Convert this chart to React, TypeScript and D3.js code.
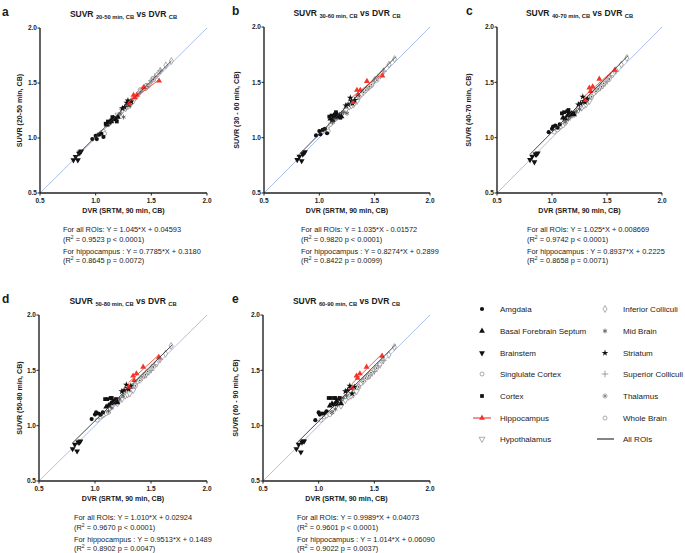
import React from 'react';
import * as d3 from 'd3';

// ---------------- DATA ----------------
const roiNames = [
  'Amgdala', 'Basal Forebrain Septum', 'Brainstem', 'Singlulate Cortex', 'Cortex',
  'Hippocampus', 'Hypothalamus', 'Inferior Colliculi', 'Mid Brain', 'Striatum',
  'Superior Colliculi', 'Thalamus', 'Whole Brain',
];

// DVR (SRTM, 90 min, CB) per ROI, 6 subjects each (same for all panels)
const dvrByRoi = [
  [0.97, 1.00, 1.01, 1.03, 1.05, 1.07],
  [1.10, 1.12, 1.14, 1.16, 1.18, 1.20],
  [0.80, 0.82, 0.84, 0.85, 0.86, 0.87],
  [1.33, 1.36, 1.38, 1.40, 1.44, 1.47],
  [1.09, 1.11, 1.14, 1.15, 1.16, 1.19],
  [1.30, 1.34, 1.35, 1.37, 1.43, 1.57],
  [1.20, 1.24, 1.27, 1.29, 1.31, 1.34],
  [1.45, 1.50, 1.55, 1.58, 1.63, 1.68],
  [1.12, 1.15, 1.17, 1.20, 1.22, 1.25],
  [1.24, 1.26, 1.28, 1.29, 1.30, 1.32],
  [1.40, 1.44, 1.46, 1.50, 1.53, 1.58],
  [1.36, 1.40, 1.42, 1.45, 1.47, 1.52],
  [1.02, 1.05, 1.07, 1.08, 1.10, 1.12],
];

const suvr20to50 = [
  [0.99, 1.02, 0.99, 1.03, 1.04, 1.01],
  [1.12, 1.14, 1.15, 1.18, 1.17, 1.19],
  [0.80, 0.83, 0.80, 0.86, 0.87, 0.88],
  [1.35, 1.37, 1.40, 1.44, 1.46, 1.48],
  [1.13, 1.15, 1.16, 1.19, 1.18, 1.15],
  [1.31, 1.39, 1.37, 1.39, 1.46, 1.52],
  [1.21, 1.25, 1.27, 1.29, 1.30, 1.34],
  [1.47, 1.52, 1.57, 1.61, 1.66, 1.70],
  [1.13, 1.16, 1.18, 1.19, 1.22, 1.19],
  [1.27, 1.28, 1.32, 1.34, 1.30, 1.33],
  [1.42, 1.46, 1.47, 1.52, 1.56, 1.61],
  [1.37, 1.42, 1.44, 1.45, 1.47, 1.53],
  [1.03, 1.05, 1.06, 1.04, 1.12, 1.13],
];

const suvr30to60 = [
  [1.02, 1.06, 1.03, 1.07, 1.08, 1.04],
  [1.17, 1.16, 1.19, 1.21, 1.20, 1.19],
  [0.80, 0.83, 0.79, 0.85, 0.86, 0.87],
  [1.35, 1.37, 1.39, 1.42, 1.45, 1.47],
  [1.19, 1.20, 1.21, 1.23, 1.19, 1.18],
  [1.32, 1.43, 1.39, 1.43, 1.51, 1.56],
  [1.21, 1.25, 1.28, 1.29, 1.30, 1.33],
  [1.46, 1.52, 1.56, 1.60, 1.66, 1.71],
  [1.14, 1.17, 1.19, 1.22, 1.23, 1.22],
  [1.29, 1.30, 1.36, 1.33, 1.31, 1.34],
  [1.41, 1.45, 1.47, 1.51, 1.55, 1.60],
  [1.37, 1.41, 1.43, 1.46, 1.48, 1.52],
  [1.05, 1.07, 1.08, 1.06, 1.12, 1.14],
];

const suvr40to70 = [
  [1.05, 1.08, 1.10, 1.11, 1.09, 1.12],
  [1.18, 1.17, 1.20, 1.21, 1.22, 1.21],
  [0.80, 0.83, 0.78, 0.85, 0.85, 0.86],
  [1.35, 1.38, 1.40, 1.43, 1.46, 1.48],
  [1.22, 1.23, 1.24, 1.25, 1.22, 1.22],
  [1.34, 1.45, 1.42, 1.46, 1.53, 1.61],
  [1.21, 1.25, 1.27, 1.29, 1.30, 1.33],
  [1.47, 1.52, 1.57, 1.61, 1.66, 1.72],
  [1.14, 1.17, 1.19, 1.22, 1.24, 1.26],
  [1.30, 1.31, 1.37, 1.33, 1.32, 1.35],
  [1.42, 1.45, 1.47, 1.51, 1.56, 1.60],
  [1.37, 1.42, 1.44, 1.46, 1.49, 1.53],
  [1.05, 1.07, 1.09, 1.10, 1.11, 1.13],
];

const suvr50to80 = [
  [1.06, 1.10, 1.12, 1.11, 1.10, 1.12],
  [1.17, 1.18, 1.20, 1.22, 1.23, 1.21],
  [0.79, 0.83, 0.77, 0.85, 0.85, 0.86],
  [1.34, 1.37, 1.40, 1.42, 1.46, 1.48],
  [1.24, 1.24, 1.25, 1.25, 1.21, 1.24],
  [1.35, 1.45, 1.41, 1.47, 1.53, 1.62],
  [1.20, 1.24, 1.27, 1.28, 1.29, 1.32],
  [1.46, 1.51, 1.56, 1.60, 1.65, 1.72],
  [1.13, 1.16, 1.20, 1.22, 1.24, 1.27],
  [1.31, 1.32, 1.37, 1.34, 1.33, 1.36],
  [1.41, 1.45, 1.46, 1.50, 1.55, 1.60],
  [1.36, 1.41, 1.44, 1.46, 1.49, 1.53],
  [1.05, 1.08, 1.09, 1.10, 1.11, 1.12],
];

const suvr60to90 = [
  [1.05, 1.12, 1.10, 1.11, 1.11, 1.13],
  [1.18, 1.20, 1.19, 1.22, 1.24, 1.20],
  [0.79, 0.83, 0.76, 0.85, 0.86, 0.86],
  [1.33, 1.36, 1.38, 1.41, 1.45, 1.47],
  [1.25, 1.25, 1.25, 1.25, 1.20, 1.25],
  [1.34, 1.45, 1.43, 1.47, 1.53, 1.63],
  [1.18, 1.23, 1.26, 1.27, 1.28, 1.31],
  [1.45, 1.50, 1.55, 1.59, 1.64, 1.71],
  [1.12, 1.15, 1.19, 1.22, 1.25, 1.27],
  [1.31, 1.32, 1.36, 1.34, 1.29, 1.35],
  [1.40, 1.44, 1.45, 1.49, 1.54, 1.59],
  [1.35, 1.40, 1.43, 1.45, 1.48, 1.52],
  [1.05, 1.08, 1.09, 1.12, 1.10, 1.12],
];

const panelSuvr = [suvr20to50, suvr30to60, suvr40to70, suvr50to80, suvr60to90];
const panelLetters = ['a', 'b', 'c', 'd', 'e'];
const titleSubs = ['20-50 min, CB', '30-60 min, CB', '40-70 min, CB', '50-80 min, CB', '60-90 min, CB'];
const yLabels = ['SUVR (20-50 min, CB)', 'SUVR (30 - 60 min, CB)', 'SUVR (40-70 min, CB)', 'SUVR (50-80 min, CB)', 'SUVR (60 - 90 min, CB)'];
const xLabel = 'DVR (SRTM, 90 min, CB)';
const axisTicks = [0.5, 1.0, 1.5, 2.0];
const allRoiEq = [
  'For all ROIs: Y = 1.045*X + 0.04593',
  'For all ROIs: Y = 1.035*X - 0.01572',
  'For all ROIs: Y = 1.025*X + 0.008669',
  'For all ROIs: Y = 1.010*X + 0.02924',
  'For all ROIs: Y = 0.9989*X + 0.04073',
];
const allRoiR2 = [' = 0.9523 p < 0.0001)', ' = 0.9820 p < 0.0001)', ' = 0.9742 p < 0.0001)', ' = 0.9670 p < 0.0001)', ' = 0.9601 p < 0.0001)'];
const hippoEq = [
  'For hippocampus : Y = 0.7785*X + 0.3180',
  'For hippocampus : Y = 0.8274*X + 0.2899',
  'For hippocampus : Y = 0.8937*X + 0.2225',
  'For hippocampus : Y = 0.9513*X + 0.1489',
  'For hippocampus : Y = 1.014*X + 0.06090',
];
const hippoR2 = [' = 0.8645 p = 0.0072)', ' = 0.8422 p = 0.0099)', ' = 0.8658 p = 0.0071)', ' = 0.8902 p = 0.0047)', ' = 0.9022 p = 0.0037)'];
// fitted line end points
const allFitX = [[0.80, 1.68], [0.80, 1.69], [0.80, 1.69], [0.80, 1.69], [0.80, 1.69]];
const allFitY = [[0.81, 1.70], [0.83, 1.73], [0.85, 1.74], [0.845, 1.73], [0.84, 1.73]];
const hippoFitX = [[1.30, 1.57], [1.30, 1.57], [1.30, 1.57], [1.30, 1.57], [1.30, 1.57]];
const hippoFitY = [[1.33, 1.53], [1.37, 1.58], [1.38, 1.62], [1.39, 1.64], [1.38, 1.65]];
const legendLeft = [0, 1, 2, 3, 4, 5, 6];
const legendRight = [7, 8, 9, 10, 11, 12, -1];
const allRoisLabel = 'All ROIs';

// ---------------- LAYOUT ----------------
const frames = [
  { x0: 40, x1: 207, y0: 28, y1: 193, lx: 2, ylx: 19, ax: 63 },
  { x0: 264, x1: 430, y0: 27, y1: 193, lx: 232, ylx: 236, ax: 301 },
  { x0: 497, x1: 662, y0: 27, y1: 193, lx: 466, ylx: 468, ax: 527 },
  { x0: 39, x1: 207, y0: 315, y1: 481, lx: 2, ylx: 19, ax: 74 },
  { x0: 263, x1: 430, y0: 315, y1: 481, lx: 232, ylx: 235, ax: 297 },
];
const legendRowsY = [309, 331, 353, 374, 396, 418, 439];
const FONT = "'Liberation Sans', Arial, Helvetica, sans-serif";
const RED = '#f5352a';
const GRAY = '#8a8a8a';
const BLUE = '#a4b8ec';
const INK = '#1a1a1a';

function Marker({ roi, cx, cy }: { roi: number; cx: number; cy: number }) {
  const t = `translate(${cx},${cy})`;
  const sym = (type: d3.SymbolType, size: number) => d3.symbol().type(type).size(size)() as string;
  switch (roi) {
    case 0: return <circle cx={cx} cy={cy} r={2.1} fill="#111" />;
    case 1: return <path transform={t} d={sym(d3.symbolTriangle, 15)} fill="#111" />;
    case 2: return <path transform={`${t} rotate(180)`} d={sym(d3.symbolTriangle, 15)} fill="#111" />;
    case 3: return <circle cx={cx} cy={cy} r={2} fill="#fff" stroke={GRAY} strokeWidth={0.7} />;
    case 4: return <path transform={t} d={sym(d3.symbolSquare, 14)} fill="#111" />;
    case 5: return <path transform={t} d={sym(d3.symbolTriangle, 15)} fill={RED} />;
    case 6: return <path transform={`${t} rotate(180)`} d={sym(d3.symbolTriangle, 15)} fill="#fff" stroke={GRAY} strokeWidth={0.7} />;
    case 7: return <path transform={t} d={sym(d3.symbolDiamond, 14)} fill="#fff" stroke={GRAY} strokeWidth={0.7} />;
    case 8: return <path transform={t} d={sym(d3.symbolAsterisk, 16)} fill="none" stroke="#555" strokeWidth={0.8} />;
    case 9: return <path transform={t} d={sym(d3.symbolStar, 14)} fill="#111" />;
    case 10: return <path transform={t} d={sym(d3.symbolPlus, 16)} fill="none" stroke={GRAY} strokeWidth={0.8} />;
    case 11: return (
      <g>
        <circle cx={cx} cy={cy} r={2.1} fill="#fff" stroke={GRAY} strokeWidth={0.7} />
        <circle cx={cx} cy={cy} r={0.9} fill="#555" />
      </g>
    );
    default: return <circle cx={cx} cy={cy} r={2} fill="#fff" stroke={GRAY} strokeWidth={0.7} />;
  }
}

function Panel({ p }: { p: number }) {
  const f = frames[p];
  const x = d3.scaleLinear().domain([0.5, 2.0]).range([f.x0, f.x1]);
  const y = d3.scaleLinear().domain([0.5, 2.0]).range([f.y1, f.y0]);
  const line = d3.line<[number, number]>().x((d) => x(d[0])).y((d) => y(d[1]));
  const suvr = panelSuvr[p];
  const cx = (f.x0 + f.x1) / 2;
  const cy = (f.y0 + f.y1) / 2;
  const identity = line([[0.5, 0.5], [2.0, 2.0]]) as string;
  const allFit = line([[allFitX[p][0], allFitY[p][0]], [allFitX[p][1], allFitY[p][1]]]) as string;
  const hipFit = line([[hippoFitX[p][0], hippoFitY[p][0]], [hippoFitX[p][1], hippoFitY[p][1]]]) as string;
  const order = [12, 3, 6, 7, 10, 11, 8, 0, 1, 2, 4, 9, 5];
  return (
    <g fontFamily={FONT}>
      <text x={f.lx} y={f.y0 - 12} fontSize={12} fontWeight="bold" fill={INK}>{panelLetters[p]}</text>
      <text x={cx} y={f.y0 - 11} textAnchor="middle" fontSize={8.5} fontWeight="bold" fill={INK}>
        {'SUVR '}
        <tspan fontSize={5.8} dy={2}>{titleSubs[p]}</tspan>
        <tspan dy={-2}>{' vs DVR '}</tspan>
        <tspan fontSize={5.8} dy={2}>CB</tspan>
      </text>
      <path d={identity} stroke={BLUE} strokeWidth={0.9} fill="none" />
      {order.map((r) =>
        dvrByRoi[r].map((dv, i) => (
          <Marker key={`${r}-${i}`} roi={r} cx={x(dv)} cy={y(suvr[r][i])} />
        ))
      )}
      <path d={allFit} stroke="#333" strokeWidth={0.9} fill="none" />
      <path d={hipFit} stroke={RED} strokeWidth={0.8} fill="none" />
      <line x1={f.x0} x2={f.x0} y1={f.y0} y2={f.y1} stroke="#222" strokeWidth={1.4} />
      <line x1={f.x0} x2={f.x1} y1={f.y1} y2={f.y1} stroke="#222" strokeWidth={1.4} />
      {axisTicks.map((t) => (
        <g key={`yt${t}`}>
          <line x1={f.x0 - 2.5} x2={f.x0} y1={y(t)} y2={y(t)} stroke="#222" strokeWidth={1} />
          <text x={f.x0 - 3} y={y(t) + 2.3} textAnchor="end" fontSize={6.5} fontWeight="bold" fill="#222">{t.toFixed(1)}</text>
        </g>
      ))}
      {axisTicks.map((t) => (
        <g key={`xt${t}`}>
          <line x1={x(t)} x2={x(t)} y1={f.y1} y2={f.y1 + 2.5} stroke="#222" strokeWidth={1} />
          <text x={x(t)} y={f.y1 + 10} textAnchor="middle" fontSize={6.5} fontWeight="bold" fill="#222">{t.toFixed(1)}</text>
        </g>
      ))}
      <text x={cx} y={f.y1 + 20} textAnchor="middle" fontSize={7.1} fontWeight="bold" fill={INK}>{xLabel}</text>
      <text transform={`translate(${f.ylx + 2.6},${cy}) rotate(-90)`} textAnchor="middle" fontSize={7.1} fontWeight="bold" fill={INK}>{yLabels[p]}</text>
      <text x={f.ax} y={f.y1 + 38.5} fontSize={7.4} fill={INK}>{allRoiEq[p]}</text>
      <text x={f.ax} y={f.y1 + 48.5} fontSize={7.4} fill={INK}>{'(R'}<tspan fontSize={5} dy={-2.5}>2</tspan><tspan dy={2.5}>{allRoiR2[p]}</tspan></text>
      <text x={f.ax} y={f.y1 + 60.5} fontSize={7.4} fill={INK}>{hippoEq[p]}</text>
      <text x={f.ax} y={f.y1 + 69.5} fontSize={7.4} fill={INK}>{'(R'}<tspan fontSize={5} dy={-2.5}>2</tspan><tspan dy={2.5}>{hippoR2[p]}</tspan></text>
    </g>
  );
}

function Legend() {
  return (
    <g fontFamily={FONT} fontSize={8}>
      {legendLeft.map((r, i) => (
        <g key={`l${i}`}>
          {r === 5 && <line x1={473} x2={491} y1={legendRowsY[i]} y2={legendRowsY[i]} stroke={RED} strokeWidth={1.1} />}
          <Marker roi={r} cx={482} cy={legendRowsY[i]} />
          <text x={500} y={legendRowsY[i] + 3} fill={INK}>{roiNames[r]}</text>
        </g>
      ))}
      {legendRight.map((r, i) => (
        <g key={`r${i}`}>
          {r >= 0 ? (
            <Marker roi={r} cx={605} cy={legendRowsY[i]} />
          ) : (
            <line x1={597} x2={614} y1={legendRowsY[i]} y2={legendRowsY[i]} stroke="#222" strokeWidth={1.1} />
          )}
          <text x={623} y={legendRowsY[i] + 3} fill={INK}>{r >= 0 ? roiNames[r] : allRoisLabel}</text>
        </g>
      ))}
    </g>
  );
}

export default function App() {
  return (
    <svg width={685} height={553} style={{ position: 'absolute', left: 0, top: 0, background: '#fff' }}>
      <rect width={685} height={553} fill="#fff" />
      {[0, 1, 2, 3, 4].map((p) => <Panel key={p} p={p} />)}
      <Legend />
    </svg>
  );
}
